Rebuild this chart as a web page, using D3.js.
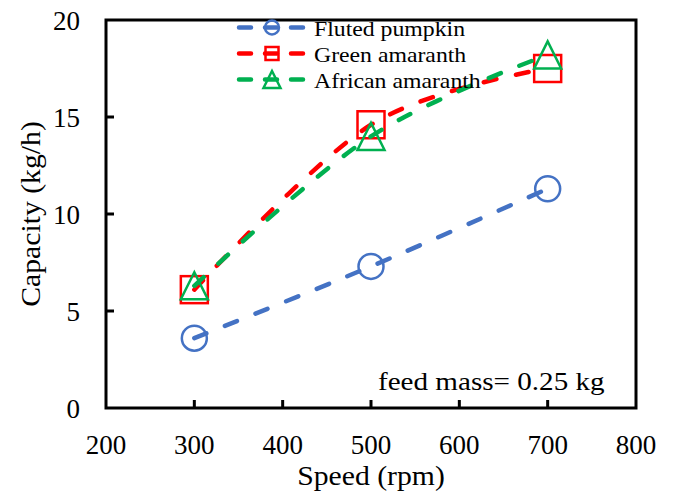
<!DOCTYPE html>
<html><head><meta charset="utf-8">
<script src="https://cdn.jsdelivr.net/npm/d3@7"></script>
<style>body{margin:0;background:#fff}svg{display:block}text{font-family:"Liberation Serif","Times New Roman",serif;fill:#000}</style>
</head><body>
<svg id="c" width="675" height="492"></svg>
<script>
const speeds = [300, 500, 700];
const flutedPumpkin = [3.6, 7.3, 11.3];
const greenAmaranth = [6.1, 14.6, 17.5];
const africanAmaranth = [6.3, 14.0, 18.2];
const xTicks = [200, 300, 400, 500, 600, 700, 800];
const yTicks = [0, 5, 10, 15, 20];
const seriesNames = ["Fluted pumpkin", "Green amaranth", "African amaranth"];
const seriesColors = ["#4472C4", "#FF0000", "#00B050"];
const seriesShapes = ["circle", "square", "triangle"];
const seriesValues = [flutedPumpkin, greenAmaranth, africanAmaranth];

const svg = d3.select("#c");
const L = 106, R = 636, T = 20, B = 408;
const x = d3.scaleLinear().domain([200, 800]).range([L, R]);
const y = d3.scaleLinear().domain([0, 20]).range([B, T]);

function marker(g, shape, cx, cy, s, color, sw) {
  if (shape === "circle") {
    g.append("circle").attr("cx", cx).attr("cy", cy).attr("r", s / 2)
      .attr("fill", "none").attr("stroke", color).attr("stroke-width", sw);
  } else if (shape === "square") {
    g.append("rect").attr("x", cx - s / 2).attr("y", cy - s / 2).attr("width", s).attr("height", s)
      .attr("fill", "none").attr("stroke", color).attr("stroke-width", sw);
  } else {
    const h = s;
    g.append("path").attr("d", `M${cx},${cy - h / 2}L${cx + s / 2},${cy + h / 2}L${cx - s / 2},${cy + h / 2}Z`)
      .attr("fill", "none").attr("stroke", color).attr("stroke-width", sw).attr("stroke-linejoin", "miter");
  }
}

function label(g, tx, ty, str, size, sx, anchor, rot) {
  return g.append("text")
    .attr("transform", `translate(${tx},${ty})${rot ? ` rotate(${rot})` : ""} scale(${sx},1)`)
    .attr("text-anchor", anchor || "start")
    .style("font-size", size + "px").text(str);
}

// series
const line = d3.line().x(d => x(d[0])).y(d => y(d[1])).curve(d3.curveCatmullRom.alpha(0));
seriesValues.forEach((vals, i) => {
  const pts = speeds.map((s, j) => [s, vals[j]]);
  const g = svg.append("g");
  g.append("path").attr("d", line(pts)).attr("fill", "none")
    .attr("stroke", seriesColors[i]).attr("stroke-width", 4.5)
    .attr("stroke-dasharray", "13,20").attr("stroke-linecap", "round");
  const ms = i === 0 ? 25 : 27;
  pts.forEach(p => marker(g, seriesShapes[i], x(p[0]), y(p[1]), ms, seriesColors[i], 2.5));
});

// frame
svg.append("rect").attr("x", L).attr("y", T).attr("width", R - L).attr("height", B - T)
  .attr("fill", "none").attr("stroke", "#000").attr("stroke-width", 3);

// ticks
const ax = svg.append("g");
xTicks.slice(1, -1).forEach(t => {
  ax.append("line").attr("x1", x(t)).attr("x2", x(t)).attr("y1", B).attr("y2", B - 8)
    .attr("stroke", "#000").attr("stroke-width", 3);
});
yTicks.slice(1, -1).forEach(t => {
  ax.append("line").attr("x1", L).attr("x2", L + 8).attr("y1", y(t)).attr("y2", y(t))
    .attr("stroke", "#000").attr("stroke-width", 3);
});
xTicks.forEach(t => label(ax, x(t), 454, t, 27, 1, "middle"));
yTicks.forEach(t => label(ax, 80, y(t) + 10, t, 27, 1, "end"));

// axis titles
label(svg, (L + R) / 2, 485, "Speed (rpm)", 27, 1.1, "middle");
label(svg, 40, 214, "Capacity (kg/h)", 27, 1.1, "middle", -90);

// annotation
label(svg, 378, 390, "feed mass= 0.25 kg", 26, 1.12, "start");

// legend
const rowsY = [27.5, 53.5, 79.5];
seriesNames.forEach((n, i) => {
  const g = svg.append("g");
  g.append("line").attr("x1", 239).attr("x2", 306).attr("y1", rowsY[i]).attr("y2", rowsY[i])
    .attr("stroke", seriesColors[i]).attr("stroke-width", 4.5)
    .attr("stroke-dasharray", "12,14").attr("stroke-linecap", "round");
  const ms = i === 0 ? 14 : (i === 1 ? 13 : 17);
  marker(g, seriesShapes[i], 272, rowsY[i], ms, seriesColors[i], 2.5);
  label(g, 314, rowsY[i] + 8, n, 22, 1.08, "start");
});
</script>
</body></html>
